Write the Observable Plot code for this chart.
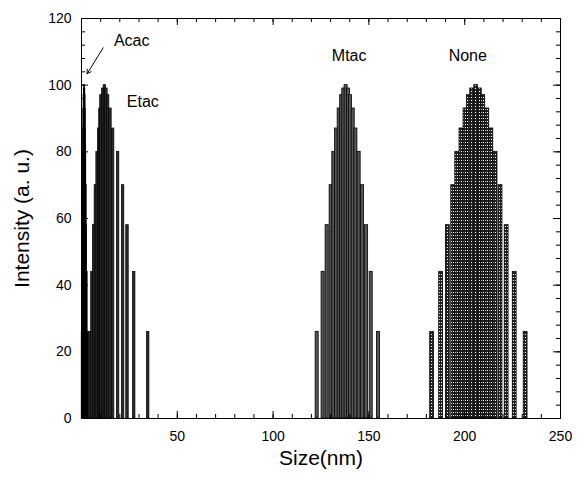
<!DOCTYPE html>
<html><head><meta charset="utf-8">
<script src="https://cdn.jsdelivr.net/npm/d3@7"></script>
<script src="https://cdn.jsdelivr.net/npm/@observablehq/plot@0.6"></script>
<style>body{margin:0;background:#fff;}</style>
</head><body><div id="chart"></div>
<script>
// ---- data ----
const levels = [26,44,58,70,80,87,93,97,99,100,99,97,93,87,80,70,58,44,26];

const acacSize = [0.4,0.6,0.8,1.0,1.1,1.2,1.3,1.4,1.5,1.6,1.7,1.8,1.9,2.0,2.2,2.4,2.6,2.9,3.3];
const acacIntensity = levels;

const etacSize = [4.3,5.7,6.6,7.5,8.4,9.2,9.9,10.4,11.3,12.2,13.0,13.9,15.1,16.5,19.1,21.7,24.0,27.5,34.8];
const etacIntensity = levels;

const mtacSize = [123.0,126.1,128.2,130.3,131.7,133.1,134.5,135.8,136.9,138.1,139.3,140.4,141.8,143.2,144.9,146.7,148.8,151.2,155.0];
const mtacIntensity = levels;

const noneSize = [183.0,187.7,191.2,194.0,196.1,198.3,200.4,202.2,203.9,206.0,207.9,209.7,211.8,213.9,216.1,218.7,221.9,226.1,231.8];
const noneIntensity = levels;

const xTickLabels = [50,100,150,200,250];
const xMajor = [0,50,100,150,200,250];
const xMinor = d3.range(0,251,10);
const yTickLabels = [0,20,40,60,80,100,120];
const yMinor = d3.range(0,121,4);

const seriesNames = ["Acac","Etac","Mtac","None"];
const labelX = [26.2,32.0,139.7,201.6];
const labelY = [113.4,95.1,108.8,108.8];
const arrowFrom = [11.3,111.2];
const arrowTo = [2.9,103.4];

// ---- layout ----
const W = 578, H = 478, mL = 81, mR = 18, mT = 18, mB = 60;
const innerW = W - mL - mR, innerH = H - mT - mB;

function bars(size, inten, hw, fill, stroke, sw) {
  const data = size.map((s, i) => ({s, v: inten[i]}));
  return Plot.rect(data, {x1: d => d.s - hw, x2: d => d.s + hw, y1: 0, y2: "v", fill, stroke, strokeWidth: sw});
}

const plot = Plot.plot({
  width: W, height: H,
  marginLeft: mL, marginRight: mR, marginTop: mT, marginBottom: mB,
  style: {fontFamily: "'Liberation Sans', Arial, sans-serif", background: "white", color: "black"},
  x: {domain: [0,250], axis: null},
  y: {domain: [0,120], axis: null},
  marks: [
    bars(noneSize, noneIntensity, 1.0, "url(#dots)", "#000", 0.8),
    bars(mtacSize, mtacIntensity, 0.8, "#555", "#000", 0.8),
    bars(etacSize, etacIntensity, 0.65, "#2a2a2a", "#000", 0.7),
    bars(acacSize, acacIntensity, 0.35, "#000", "#000", 0.5),
    Plot.frame({stroke: "#000", strokeWidth: 1}),
    // inward ticks
    Plot.tickX(xMinor, {x: d => d, insetTop: innerH - 4, stroke: "#000"}),
    Plot.tickX(xMajor, {x: d => d, insetTop: innerH - 7, stroke: "#000"}),
    Plot.tickX(xMinor, {x: d => d, insetBottom: innerH - 4, stroke: "#000"}),
    Plot.tickX(xMajor, {x: d => d, insetBottom: innerH - 7, stroke: "#000"}),
    Plot.tickY(yMinor, {y: d => d, insetRight: innerW - 4, stroke: "#000"}),
    Plot.tickY(yTickLabels, {y: d => d, insetRight: innerW - 7, stroke: "#000"}),
    Plot.tickY(yMinor, {y: d => d, insetLeft: innerW - 4, stroke: "#000"}),
    Plot.tickY(yTickLabels, {y: d => d, insetLeft: innerW - 7, stroke: "#000"}),
    // tick labels
    Plot.text(xTickLabels, {x: d => d, y: 0, dy: 18, text: d => String(d), fontSize: 14, fill: "#000"}),
    Plot.text(yTickLabels, {x: 0, y: d => d, dx: -10, text: d => String(d), textAnchor: "end", fontSize: 14, fill: "#000"}),
    // axis titles
    Plot.text(["Size(nm)"], {frameAnchor: "bottom", dy: 46, fontSize: 21, fill: "#000"}),
    Plot.text(["Intensity (a. u.)"], {frameAnchor: "left", textAnchor: "middle", dx: -59, rotate: -90, fontSize: 21, fill: "#000"}),
    // series labels
    Plot.text(seriesNames, {x: (d, i) => labelX[i], y: (d, i) => labelY[i], text: d => d, fontSize: 16, fill: "#000"}),
    Plot.arrow([0], {x1: arrowFrom[0], y1: arrowFrom[1], x2: arrowTo[0], y2: arrowTo[1], stroke: "#000", strokeWidth: 1, headLength: 7})
  ]
});

const defs = document.createElementNS("http://www.w3.org/2000/svg", "defs");
defs.innerHTML = '<pattern id="dots" width="2" height="3" patternUnits="userSpaceOnUse"><rect width="2" height="3" fill="#222"/><rect x="1" y="1" width="1" height="1" fill="#fff"/></pattern>';
plot.insertBefore(defs, plot.firstChild);
document.getElementById("chart").appendChild(plot);
</script>
</body></html>
